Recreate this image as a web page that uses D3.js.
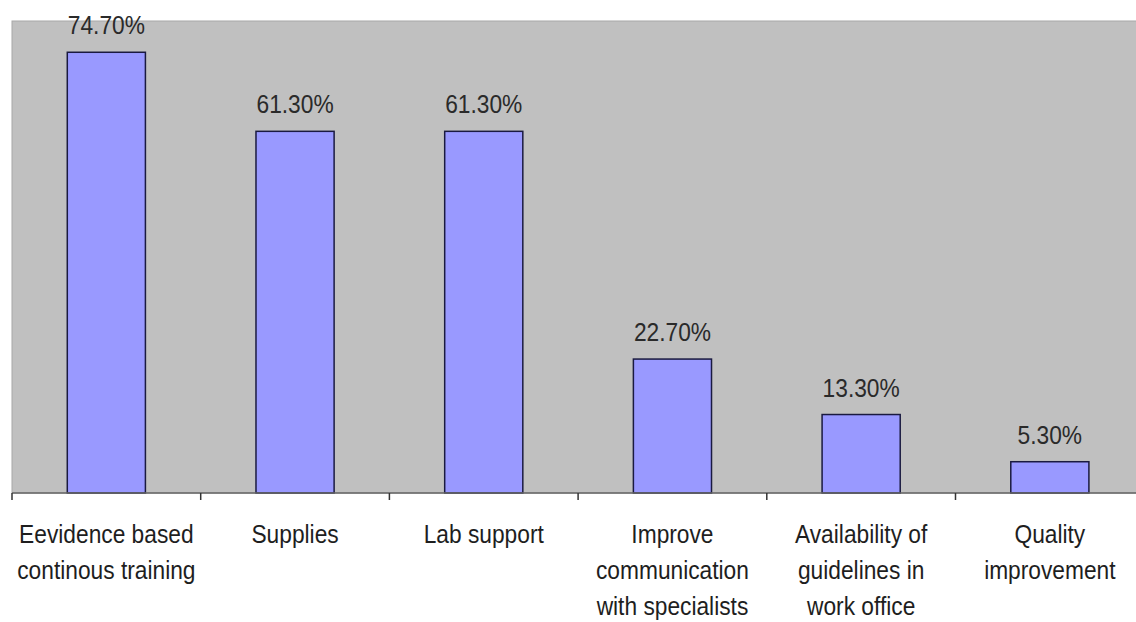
<!DOCTYPE html>
<html>
<head>
<meta charset="utf-8">
<script src="https://cdn.jsdelivr.net/npm/d3@7"></script>
<style>
  body { margin: 0; background: #fff; }
  text { font-family: "Liberation Sans", Arial, sans-serif; }
</style>
</head>
<body>
<div id="chart"></div>
<script>
// Chart data
const categories = [
    ['Eevidence based', 'continous training'],
    ['Supplies'],
    ['Lab support'],
    ['Improve', 'communication', 'with specialists'],
    ['Availability of', 'guidelines in', 'work office'],
    ['Quality', 'improvement']
];
const values = [74.7, 61.3, 61.3, 22.7, 13.3, 5.3];
const valueLabels = ['74.70%', '61.30%', '61.30%', '22.70%', '13.30%', '5.30%'];

const width = 1136;
const height = 622;
const plotLeft = 12, plotTop = 21, plotBottom = 493;
const step = 188.7;
const squeeze = 0.91; // the original text looks horizontally condensed

const svg = d3.select('#chart')
    .append('svg')
    .attr('width', width)
    .attr('height', height);

const x = d3.scaleBand()
    .domain(d3.range(categories.length))
    .range([plotLeft, plotLeft + step * categories.length])
    .padding(0);

const y = d3.scaleLinear()
    .domain([0, 80])
    .range([plotBottom, plotTop]);

// Plot background
svg.append('rect')
    .attr('x', plotLeft)
    .attr('y', plotTop)
    .attr('width', step * categories.length)
    .attr('height', plotBottom - plotTop)
    .attr('fill', '#c0c0c0')
    .attr('stroke', '#a8a8a8')
    .attr('stroke-width', 1);

const barW = x.bandwidth() * 0.414;

// Bars
svg.selectAll('.bar')
    .data(values)
    .join('rect')
    .attr('class', 'bar')
    .attr('x', (d, i) => x(i) + (x.bandwidth() - barW) / 2)
    .attr('y', d => y(d))
    .attr('width', barW)
    .attr('height', d => y(0) - y(d))
    .attr('fill', '#9999ff')
    .attr('stroke', '#1a1a40')
    .attr('stroke-width', 1.5);

// Value labels
svg.selectAll('.val')
    .data(values)
    .join('text')
    .attr('class', 'val')
    .attr('transform', (d, i) => `translate(${x(i) + x.bandwidth() / 2},${y(d) - 18}) scale(${squeeze},1)`)
    .attr('text-anchor', 'middle')
    .attr('font-size', 25)
    .attr('fill', '#2a2a2a')
    .text((d, i) => valueLabels[i]);

// X axis
const axis = svg.append('g')
    .attr('transform', `translate(0,${plotBottom})`);
axis.append('line')
    .attr('x1', plotLeft).attr('x2', plotLeft + step * categories.length)
    .attr('stroke', '#666').attr('stroke-width', 1.5);
axis.selectAll('.tick')
    .data(d3.range(categories.length + 1))
    .join('line')
    .attr('x1', i => plotLeft + i * step)
    .attr('x2', i => plotLeft + i * step)
    .attr('y1', 0).attr('y2', 7)
    .attr('stroke', '#333').attr('stroke-width', 1.5);

// Category labels
const cat = svg.selectAll('.cat')
    .data(categories)
    .join('text')
    .attr('class', 'cat')
    .attr('transform', (d, i) => `translate(${x(i) + x.bandwidth() / 2},0) scale(${squeeze},1)`)
    .attr('text-anchor', 'middle')
    .attr('font-size', 25)
    .attr('fill', '#1e1e1e');
cat.selectAll('tspan')
    .data(d => d)
    .join('tspan')
    .attr('x', 0)
    .attr('y', (d, j) => 543 + j * 36)
    .text(d => d);
</script>
</body>
</html>
